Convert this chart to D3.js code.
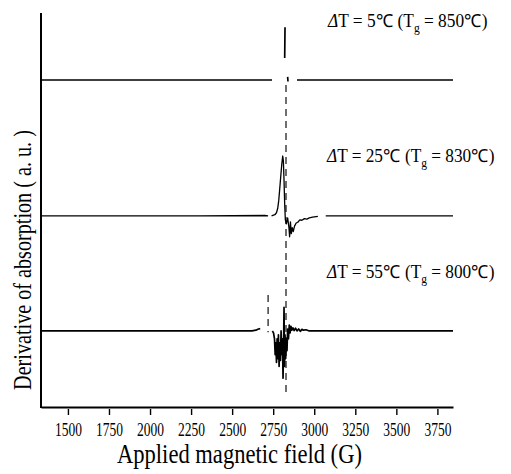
<!DOCTYPE html>
<html><head><meta charset="utf-8">
<script src="https://cdn.jsdelivr.net/npm/d3@7"></script>
<style>
html,body{margin:0;padding:0;background:#fff;}
svg{display:block;}
</style></head>
<body><svg id="c" width="511" height="474" font-family="Liberation Serif"></svg>
<script>
// ---- data ----
const fieldTicks = [1500,1750,2000,2250,2500,2750,3000,3250,3500,3750];
const fieldDomain = [1336, 3845];
const deltaT = [5, 25, 55];
const tg = [850, 830, 800];
const offsets = [83, 48.5, 19.3];
// [field (G), derivative signal (a.u.)]; null = gap in the scanned trace
const trace5 = [[1336,0],[2200,0],[2743,0],null,[2820,5.6],[2822,13.4],null,
  [2838,0.8],[2840,-0.4],null,[2895,0],[3300,0],[3845,0]];
const trace25 = [[1336,0],[2300,0],[2700,0.1],[2719,0],null,
  [2740,0],[2760,0.3],[2770,0.8],[2778,2],[2784,4],[2790,7],[2796,10],[2802,13],[2808,15.2],
  [2812,14],[2816,9],[2820,3],[2824,-1],[2830,-2],[2838,-0.5],[2846,-3],[2850,-5.3],[2855,-1.5],
  [2860,-4.5],[2866,-3],[2872,-4],[2880,-2.6],[2890,-1.8],[2900,-1.6],[2912,-1.0],[2925,-1.1],
  [2940,-0.7],[2955,-0.8],[2970,-0.5],[2990,-0.3],[3022,-0.1],null,[3070,0],[3500,0],[3845,0]];
const trace55 = [[1336,0],[2300,0],[2620,0],[2645,0.2],[2660,0.5],[2671,0.6],null,
  [2745,0],[2752,-0.5],[2758,-2],[2762,-6],[2766,-3],[2770,-8],[2774,-2],[2778,-7],[2782,-1],
  [2786,-9],[2790,-3],[2794,-7.5],[2798,0],[2802,-6],[2806,-2],[2810,-12],[2813,-4],[2816,6],
  [2819,-9],[2822,-1],[2826,-7],[2830,-2],[2834,-5],[2838,0.5],[2843,-2],[2848,1.5],[2853,-0.5],
  [2858,1.2],[2864,0.2],[2870,0.8],[2878,0.1],[2886,0.7],[2895,0],[2905,0.5],[2915,-0.1],
  [2925,0.4],[2935,0.2],[2950,0.3],[2970,0],[3000,0],[3500,0],[3845,0]];
const traces = [trace5, trace25, trace55];
// dashed vertical marks: field, top, bottom (a.u. on the plot scale)
const markField = [2828, 2719];
const markTop = [81.7, 28.4];
const markBottom = [3.8, 19.0];
const xTitle = "Applied magnetic field  (G)";
const yTitle = "Derivative of absorption ( a. u. )";

// ---- layout ----
const FONT = "Liberation Serif";
const svg = d3.select("#c");
const L = 41, R = 453, T = 13, B = 407;
const x = d3.scaleLinear().domain(fieldDomain).range([L, R]);
const y = d3.scaleLinear().domain([0, 100]).range([B, T]);

function fitH(sel, w) {
  const bw = sel.node().getBBox().width;
  return bw ? w / bw : 1;
}

// dashed markers
svg.append("g").selectAll("line").data(markField).join("line")
  .attr("x1", d => x(d)).attr("x2", d => x(d))
  .attr("y1", (d,i) => y(markTop[i])).attr("y2", (d,i) => y(markBottom[i]))
  .attr("stroke", "#222").attr("stroke-width", 1.3).attr("stroke-dasharray", "7,5");

// traces
const line = d3.line().defined(d => d != null)
  .x(d => x(d[0]));
traces.forEach((tr, i) => {
  svg.append("path").datum(tr)
    .attr("fill", "none").attr("stroke", "#000")
    .attr("stroke-width", i === 1 ? 1.3 : 1.7)
    .attr("stroke-linejoin", "round")
    .attr("d", line.y(d => y(offsets[i] + d[1])));
});

// axes
const ax = svg.append("g").attr("transform", `translate(0,${B})`)
  .call(d3.axisBottom(x).tickValues(fieldTicks).tickFormat(d3.format("d"))
    .tickSize(8).tickSizeOuter(0).tickPadding(8));
ax.attr("font-family", FONT);
ax.select(".domain").attr("stroke-width", 2);
ax.selectAll(".tick line").attr("stroke-width", 1.4).attr("y1", 2);
ax.selectAll(".tick text").attr("font-size", 19).attr("font-family", FONT)
  .attr("fill", "#000");
ax.selectAll(".tick text").each(function() {
  const s = d3.select(this);
  s.attr("transform", `scale(${fitH(s, 27)},1)`);
});
svg.append("line").attr("x1", L).attr("x2", L).attr("y1", T).attr("y2", B + 1)
  .attr("stroke", "#000").attr("stroke-width", 2);

// axis titles
const xt = svg.append("text").attr("font-size", 27).attr("font-family", FONT)
  .attr("text-anchor", "start").text(xTitle);
xt.attr("transform", `translate(117,463) scale(${fitH(xt, 245)},1)`);
const yt = svg.append("text").attr("font-size", 25).attr("font-family", FONT)
  .attr("text-anchor", "middle").text(yTitle);
yt.attr("transform", `translate(31,260) rotate(-90) scale(${fitH(yt, 260)},1)`);

// series labels
const labX = [328, 327, 327], labY = [27, 162, 278], labW = [160, 168, 168];
deltaT.forEach((dt, i) => {
  const t = svg.append("text").attr("font-size", 18).attr("font-family", FONT);
  t.append("tspan").attr("font-style", "italic").text("Δ");
  t.append("tspan").text(`T = ${dt}℃ (T`);
  t.append("tspan").attr("font-size", 12).attr("dy", 5).text("g");
  t.append("tspan").attr("dy", -5).text(` = ${tg[i]}℃)`);
  t.attr("transform", `translate(${labX[i]},${labY[i]}) scale(${fitH(t, labW[i])},1)`);
});
</script></body></html>
